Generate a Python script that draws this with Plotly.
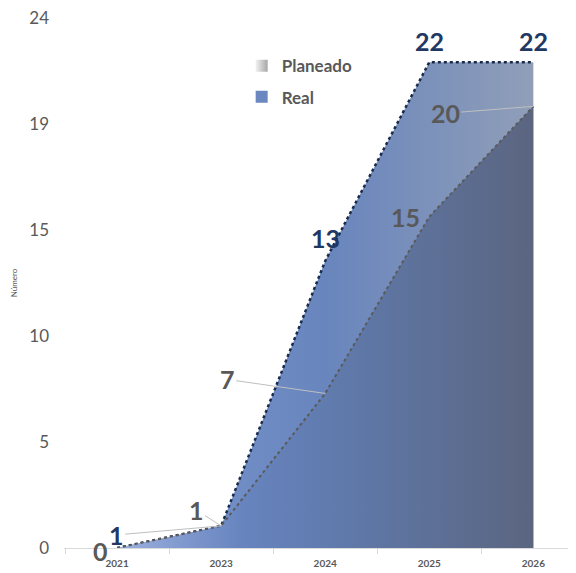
import plotly.graph_objects as go

years = ["2021", "2023", "2024", "2025", "2026"]
real = [0, 1, 13, 22, 22]
planeado = [0, 1, 7, 15, 20]
y_tickvals = [0, 4.8, 9.6, 14.4, 19.2, 24]
y_ticktext = ["0", "5", "10", "15", "19", "24"]

x = list(range(len(years)))

NAVY = "#1f3864"
GRAY = "#595959"
FONT = "Lato"

fig = go.Figure()

# Real (upper area, behind)
fig.add_trace(go.Scatter(
    x=x, y=real, mode="lines", fill="tozeroy",
    line=dict(color="#1a2a4a", width=2.5, dash="dot"),
    fillgradient=dict(type="horizontal",
                      colorscale=[[0, "#7c97d0"], [0.5, "#6885bd"], [1, "#909eb8"]]),
    showlegend=False, hoverinfo="skip",
))
# Planeado (lower area, in front)
fig.add_trace(go.Scatter(
    x=x, y=planeado, mode="lines", fill="tozeroy",
    line=dict(color="#5a5a5a", width=2, dash="dot"),
    fillgradient=dict(type="horizontal",
                      colorscale=[[0, "#9cb1df"], [0.3, "#6784bf"], [0.55, "#5f79aa"], [1, "#5b6580"]]),
    showlegend=False, hoverinfo="skip",
))

# legend entries
fig.add_trace(go.Scatter(
    x=[None], y=[None], mode="markers", name="Planeado", legendgroup="p",
    marker=dict(symbol="square", size=11, color="#f2f2f2",
                gradient=dict(type="horizontal", color="#a6a6a6")),
))
fig.add_trace(go.Scatter(
    x=[None], y=[None], mode="markers", name="Real", legendgroup="r",
    marker=dict(symbol="square", size=11, color="#6b87c0"),
))

# label offsets (pixels): (ax, ay, leader)
real_lbl = [None, (-105, 9, True), (0, -23, False), (0, -21, False), (0, -21, False)]
plan_lbl = [(-17, 3, False), (-25, -16, True), (-98, -14, True), (-24, 0, False), (-88, 7, True)]

for i, off in enumerate(real_lbl):
    if off is None:
        continue
    ax, ay, leader = off
    fig.add_annotation(x=x[i], y=real[i], text=f"<b>{real[i]}</b>", showarrow=True,
                       ax=ax, ay=ay, arrowhead=0, arrowwidth=1, standoff=0,
                       arrowcolor="#bfbfbf" if leader else "rgba(0,0,0,0)",
                       font=dict(family=FONT, size=25, color=NAVY))
for i, off in enumerate(plan_lbl):
    ax, ay, leader = off
    fig.add_annotation(x=x[i], y=planeado[i], text=f"<b>{planeado[i]}</b>", showarrow=True,
                       ax=ax, ay=ay, arrowhead=0, arrowwidth=1, standoff=0,
                       arrowcolor="#bfbfbf" if leader else "rgba(0,0,0,0)",
                       font=dict(family=FONT, size=25, color=GRAY))

# page body has an 8px default margin, so the figure is offset by 8px right/down
fig.update_layout(
    width=568, height=565,
    margin=dict(l=56, r=0, t=10, b=25),
    plot_bgcolor="white", paper_bgcolor="white",
    font=dict(family=FONT, color=GRAY),
    legend=dict(x=0.347, y=0.943, xanchor="left", yanchor="top",
                font=dict(family=FONT, size=17, color=GRAY, weight="bold"),
                itemsizing="constant", tracegroupgap=6, bgcolor="rgba(0,0,0,0)"),
    xaxis=dict(range=[-0.51, 4.41], tickvals=x, ticktext=years, automargin=False,
               tickfont=dict(family=FONT, size=10, color=GRAY, weight="bold"),
               showgrid=False, zeroline=False, showline=True, linecolor="#d9d9d9",
               linewidth=1, ticks="", ticklabelstandoff=6, ticklabeloverflow="allow",
               minor=dict(tick0=-0.5, dtick=1, ticks="outside", ticklen=5, tickcolor="#d9d9d9")),
    yaxis=dict(range=[0, 24], tickvals=y_tickvals, ticktext=y_ticktext, automargin=False,
               tickfont=dict(family=FONT, size=17, color=GRAY),
               showgrid=False, zeroline=False, showline=False, ticks="",
               ticklabelstandoff=14, ticklabeloverflow="allow",
               title=dict(text="Número", font=dict(family=FONT, size=8, color=GRAY), standoff=10)),
)

fig.write_html("out.html")
